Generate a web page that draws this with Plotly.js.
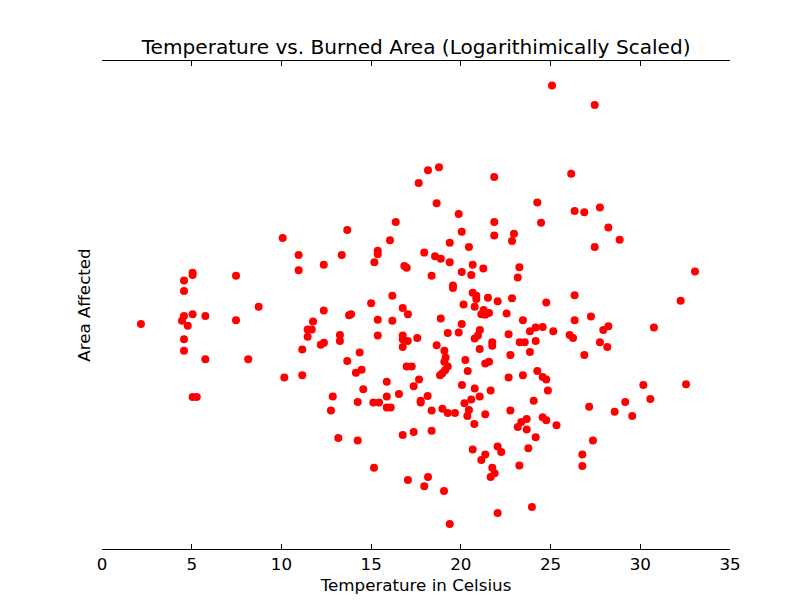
<!DOCTYPE html>
<html>
<head>
<meta charset="utf-8">
<script src="https://cdn.plot.ly/plotly-3.0.1.min.js"></script>
<style>
  body { margin: 0; background: #ffffff; }
</style>
</head>
<body>
<div id="myDiv"></div>
<script>
// Temperature (Celsius) of each fire
var temps = [
  2.17, 5.05, 5.05, 4.57, 4.57, 7.47, 8.73, 4.57, 4.46, 4.78,
  5.05, 5.76, 7.47, 4.57, 4.57, 5.76, 8.15, 5.05, 5.28, 10.07,
  13.67, 10.96, 13.36, 12.36, 10.96, 12.36, 13.77, 13.88, 11.76, 11.46,
  11.69, 11.46, 13.26, 13.26, 12.19, 12.37, 11.16, 14.36, 13.67, 14.15,
  14.47, 10.16, 11.16, 14.56, 12.86, 14.25, 12.76, 13.17, 14.25, 18.17,
  18.78, 17.65, 18.65, 19.88, 16.37, 20.05, 16.05, 19.38, 15.37, 15.37,
  15.18, 17.96, 18.56, 18.88, 19.38, 16.85, 16.98, 20.05, 18.37, 19.56,
  19.56, 16.18, 15.00, 20.15, 16.76, 17.05, 15.37, 16.18, 18.88, 20.05,
  15.37, 16.76, 16.76, 17.04, 17.57, 19.27, 19.88, 18.65, 16.76, 19.08,
  20.25, 19.15, 19.08, 19.27, 19.12, 18.97, 18.84, 16.98, 17.26, 15.87,
  17.67, 17.37, 20.06, 16.55, 15.87, 18.15, 15.12, 15.44, 15.87, 16.09,
  17.76, 17.76, 18.37, 18.97, 19.27, 19.67, 20.20, 16.76, 17.37, 18.37,
  15.16, 17.05, 18.17, 17.96, 19.06, 19.38, 21.86, 24.26, 21.86, 24.47,
  21.86, 22.96, 22.85, 20.45, 20.66, 21.25, 20.58, 23.26, 23.17, 20.66,
  20.86, 20.86, 21.51, 22.85, 20.77, 22.05, 24.76, 21.27, 21.14, 21.36,
  21.57, 22.55, 23.46, 21.06, 20.95, 20.77, 22.66, 23.85, 24.17, 24.56,
  25.15, 21.75, 23.28, 23.56, 24.17, 21.75, 21.05, 22.76, 23.85, 21.36,
  21.57, 20.38, 22.66, 23.46, 24.26, 24.56, 24.76, 20.77, 21.66, 24.85,
  21.05, 20.58, 24.06, 20.45, 20.36, 21.36, 20.75, 22.76, 23.67, 23.37,
  23.17, 23.67, 24.56, 24.76, 25.33, 24.17, 20.66, 22.05, 22.25, 21.36,
  21.14, 23.76, 23.26, 21.75, 21.88, 21.66, 23.96, 22.05, 25.08, 27.46,
  26.15, 26.34, 26.88, 27.75, 28.22, 28.85, 27.46, 33.05, 26.34, 32.25,
  26.34, 27.25, 26.06, 26.25, 27.94, 28.22, 27.75, 28.16, 26.88, 30.76,
  30.17, 32.55, 30.56, 29.16, 27.15, 28.57, 29.55, 27.36, 26.77, 26.77
];

// Log-scaled burned area of each fire, same order as temps
var burned = [
  3.69, 4.53, 4.49, 4.40, 4.23, 4.48, 3.97, 3.82, 3.74, 3.66,
  3.85, 3.82, 3.75, 3.44, 3.25, 3.11, 3.11, 2.49, 2.49, 5.10,
  5.23, 4.82, 4.82, 4.66, 4.57, 3.91, 3.83, 3.85, 3.73, 3.60,
  3.60, 3.48, 3.51, 3.41, 3.35, 3.38, 3.27, 3.22, 3.08, 2.89,
  2.94, 2.81, 2.85, 2.62, 2.50, 2.41, 2.27, 1.82, 1.78, 6.21,
  6.26, 6.00, 5.67, 5.49, 5.36, 5.20, 5.06, 5.02, 4.89, 4.83,
  4.70, 4.86, 4.80, 4.76, 4.70, 4.64, 4.61, 4.54, 4.48, 4.32,
  4.28, 4.15, 4.03, 4.01, 3.95, 3.85, 3.76, 3.74, 3.78, 3.69,
  3.50, 3.50, 3.44, 3.41, 3.46, 3.54, 3.55, 3.34, 3.31, 3.25,
  3.10, 3.14, 3.07, 2.99, 2.93, 2.88, 2.85, 2.99, 2.99, 2.74,
  2.78, 2.67, 2.69, 2.54, 2.50, 2.51, 2.40, 2.40, 2.32, 2.32,
  2.43, 2.40, 2.27, 2.30, 2.23, 2.23, 2.39, 1.87, 1.92, 1.94,
  1.33, 1.13, 1.18, 1.03, 0.95, 0.41, 6.10, 5.68, 5.36, 5.35,
  5.14, 5.17, 5.05, 4.95, 4.66, 4.60, 4.49, 4.62, 4.45, 4.20,
  4.15, 4.10, 4.12, 4.11, 3.97, 4.06, 4.04, 3.92, 3.85, 3.84,
  3.87, 3.86, 3.75, 3.59, 3.50, 3.45, 3.52, 3.57, 3.63, 3.64,
  3.57, 3.39, 3.39, 3.39, 3.41, 3.33, 3.28, 3.18, 3.23, 3.04,
  3.07, 2.92, 2.81, 2.85, 2.92, 2.82, 2.78, 2.63, 2.60, 2.60,
  2.50, 2.45, 2.43, 2.28, 2.18, 2.21, 2.05, 2.27, 2.13, 2.08,
  2.00, 1.96, 2.16, 2.11, 2.03, 1.83, 1.63, 1.68, 1.59, 1.55,
  1.46, 1.65, 1.37, 1.33, 1.24, 1.18, 0.69, 0.59, 7.60, 7.28,
  6.15, 5.54, 5.52, 5.60, 5.27, 5.07, 4.95, 4.55, 4.16, 4.07,
  3.75, 3.81, 3.51, 3.46, 3.59, 3.65, 3.39, 3.31, 3.18, 3.63,
  2.69, 2.70, 2.46, 2.41, 2.33, 2.25, 2.18, 1.78, 1.55, 1.36
];

var xTicks = [0, 5, 10, 15, 20, 25, 30, 35];

var data = [
  {x: temps, y: burned, type: 'scatter', mode: 'markers',
    marker: {color: '#ff0000', size: 8, line: {width: 0}},
    hoverinfo: 'x+y'}
];

var layout = {
  width: 812,
  height: 612,
  margin: {l: 102, r: 82, t: 61, b: 63},
  paper_bgcolor: '#ffffff',
  plot_bgcolor: '#ffffff',
  showlegend: false,
  font: {family: 'DejaVu Sans, sans-serif', size: 16.7, color: '#000000'},
  title: {
    text: 'Temperature vs. Burned Area (Logarithimically Scaled)',
    font: {size: 20.1, color: '#000000'},
    x: 0.5125, xanchor: 'center',
    y: 0.911, yanchor: 'bottom'
  },
  xaxis: {
    title: {text: 'Temperature in Celsius', font: {size: 16.7}, standoff: 6},
    range: [0, 35],
    tickvals: xTicks,
    ticktext: xTicks.map(String),
    ticks: 'inside',
    ticklen: 5,
    tickwidth: 1,
    tickcolor: '#000000',
    showline: true,
    linecolor: '#000000',
    linewidth: 1,
    mirror: 'ticks',
    showgrid: false,
    zeroline: false
  },
  yaxis: {
    title: {text: 'Area Affected', font: {size: 16.7}, standoff: 6},
    range: [0, 8],
    showticklabels: false,
    ticks: '',
    showline: false,
    showgrid: false,
    zeroline: false
  }
};

Plotly.newPlot('myDiv', data, layout, {displayModeBar: false});
</script>
</body>
</html>
